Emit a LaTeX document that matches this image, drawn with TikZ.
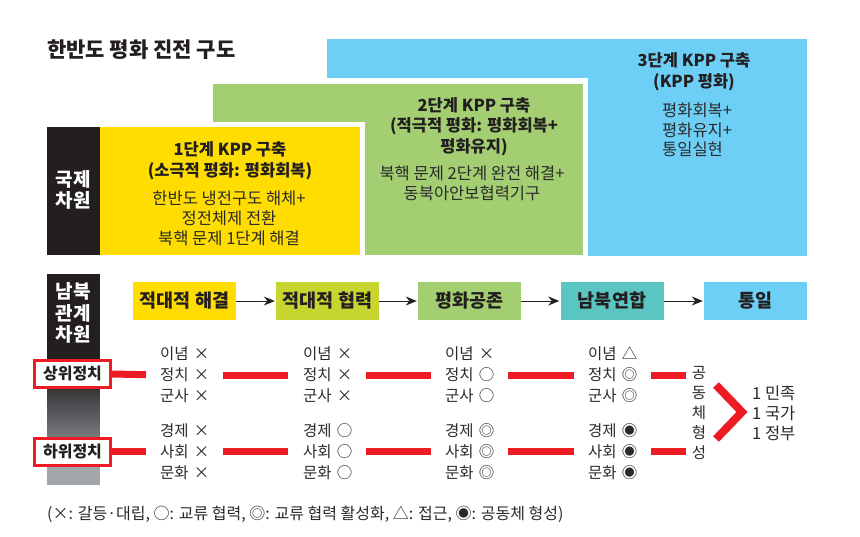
\documentclass[tikz,border=0pt]{standalone}
\usepackage{fontspec}
\setmainfont{Noto Sans CJK KR}
\usetikzlibrary{arrows.meta}
\definecolor{kdark}{HTML}{231F20}
\definecolor{ktext}{HTML}{2B2A2B}
\definecolor{kyellow}{HTML}{FFDD00}
\definecolor{kgreen}{HTML}{A3CF72}
\definecolor{kblue}{HTML}{6DCFF6}
\definecolor{klime}{HTML}{C6D62F}
\definecolor{kteal}{HTML}{5BC5C2}
\definecolor{kred}{HTML}{ED1C24}
\definecolor{kgraytop}{HTML}{38373A}
\definecolor{kgraybot}{HTML}{A2A5AA}
\newcommand{\kfs}[2]{\fontsize{#1}{#2}\selectfont}
\begin{document}
\begin{tikzpicture}[x=1pt,y=-1pt,
  every node/.style={inner sep=0pt, text=ktext},
  hd/.style={font=\bfseries\kfs{16.5}{20.5}, align=center, text=kdark},
  bd/.style={font=\kfs{16.5}{19.7}, align=center},
  flow/.style={minimum width=103pt, minimum height=38pt, font=\bfseries\kfs{18.5}{20}, text=kdark},
  side/.style={text=white, font=\bfseries\kfs{19}{21.5}, align=center},
  lvl/.style={draw=kred, line width=3pt, fill=white, minimum width=76pt, minimum height=27pt, font=\bfseries\kfs{16}{18}, text=kdark},
  col/.style={anchor=west, align=left, text width=56pt, font=\kfs{15.5}{21}},
  link/.style={kred, line width=7pt},
  arr/.style={-{Stealth[length=11pt,width=9pt]}, line width=1pt, draw=kdark, shorten >=1pt}
]
\useasboundingbox (0,0) rectangle (860,536);
\fill[white] (0,0) rectangle (860,536);

% title
\node[anchor=west, font=\bfseries\kfs{21}{24}, text=kdark] (title) at (47,50) {한반도 평화 진전 구도};

% staircase of stages
\fill[kblue] (327,39) rectangle (807,256);
\fill[white] (208,78) rectangle (588,256);
\fill[kgreen] (213,84) rectangle (583,255);
\fill[white] (95,122) rectangle (365,255);
\fill[kyellow] (100,127) rectangle (360,255);
\fill[kdark] (47,127) rectangle (99.5,255);
\node[side] (intl) at (73,190) {국제\\차원};

\node[hd] (t1) at (230,160.5) {1단계 KPP 구축\\(소극적 평화: 평화회복)};
\node[bd] (b1) at (229,218.5) {한반도 냉전구도 해체+\\정전체제 전환\\북핵 문제 1단계 해결};
\node[hd] (t2) at (474,126.5) {2단계 KPP 구축\\(적극적 평화: 평화회복+\\평화유지)};
\node[bd] (b2) at (472,183) {북핵 문제 2단계 완전 해결+\\동북아안보협력기구};
\node[hd] (t3) at (694,71.5) {3단계 KPP 구축\\(KPP 평화)};
\node[bd, align=left, anchor=west] (b3) at (662,130) {평화회복+\\평화유지+\\통일실현};

% inter-Korean side bar
\fill[kdark] (47,274) rectangle (99.5,390);
\shade[top color=kgraytop, bottom color=kgraybot] (47,389.5) rectangle (99.5,468);
\fill[kgraybot] (47,467.5) rectangle (99.5,485);
\node[side] (nk) at (73,313) {남북\\관계\\차원};

% flow
\node[flow, fill=kyellow] (f1) at (184.5,301) {적대적 해결};
\node[flow, fill=klime] (f2) at (327.5,301) {적대적 협력};
\node[flow, fill=kgreen] (f3) at (469.5,301) {평화공존};
\node[flow, fill=kteal] (f4) at (612,301) {남북연합};
\node[flow, fill=kblue] (f5) at (755.5,301) {통일};
\draw[arr] (f1) -- (f2);
\draw[arr] (f2) -- (f3);
\draw[arr] (f3) -- (f4);
\draw[arr] (f4) -- (f5);

% level columns
\node[col] (c1u) at (160,375) {이념 ×\\정치 ×\\군사 ×};
\node[col] (c2u) at (303,375) {이념 ×\\정치 ×\\군사 ×};
\node[col] (c3u) at (445,375) {이념 ×\\정치 ○\\군사 ○};
\node[col] (c4u) at (588,375) {이념 △\\정치 ◎\\군사 ◎};
\node[col] (c1l) at (160,451.5) {경제 ×\\사회 ×\\문화 ×};
\node[col] (c2l) at (303,451.5) {경제 ○\\사회 ○\\문화 ○};
\node[col] (c3l) at (445,451.5) {경제 ◎\\사회 ◎\\문화 ◎};
\node[col] (c4l) at (588,451.5) {경제 ◉\\사회 ◉\\문화 ◉};

\node[font=\kfs{15.5}{20}, align=center] (gd) at (699,413) {공\\동\\체\\형\\성};
\node[font=\kfs{16.5}{20}, align=left, anchor=west] (one) at (752,413) {1 민족\\1 국가\\1 정부};

% red links
\draw[link, shorten >=14pt] (112,374) coordinate (su) -- (c1u.west);
\draw[link, shorten <=7pt, shorten >=15pt] (c1u.east) -- (c2u.west);
\draw[link, shorten <=7pt, shorten >=14pt] (c2u.east) -- (c3u.west);
\draw[link, shorten <=7pt, shorten >=14pt] (c3u.east) -- (c4u.west);
\draw[link, shorten <=7pt, shorten >=6pt] (c4u.east) -- (c4u.east -| gd.west);
\draw[link, shorten >=14pt] (112,451.5) coordinate (sl) -- (c1l.west);
\draw[link, shorten <=7pt, shorten >=15pt] (c1l.east) -- (c2l.west);
\draw[link, shorten <=7pt, shorten >=14pt] (c2l.east) -- (c3l.west);
\draw[link, shorten <=7pt, shorten >=14pt] (c3l.east) -- (c4l.west);
\draw[link, shorten <=7pt, shorten >=6pt] (c4l.east) -- (c4l.east -| gd.west);

\node[lvl] (upper) at (72.5,374) {상위정치};
\node[lvl] (lower) at (72.5,451.5) {하위정치};

% chevron
\coordinate (chA) at (716,385);
\coordinate (chT) at (742,412);
\coordinate (chB) at (716,439);
\draw[kred, line width=8pt, line join=miter] (chA) -- (chT) -- (chB);

% legend
\node[anchor=west, font=\kfs{16}{18}] (legend) at (47,514) {(×: 갈등·대립, ○: 교류 협력, ◎: 교류 협력 활성화, △: 접근, ◉: 공동체 형성)};
\end{tikzpicture}
\end{document}
